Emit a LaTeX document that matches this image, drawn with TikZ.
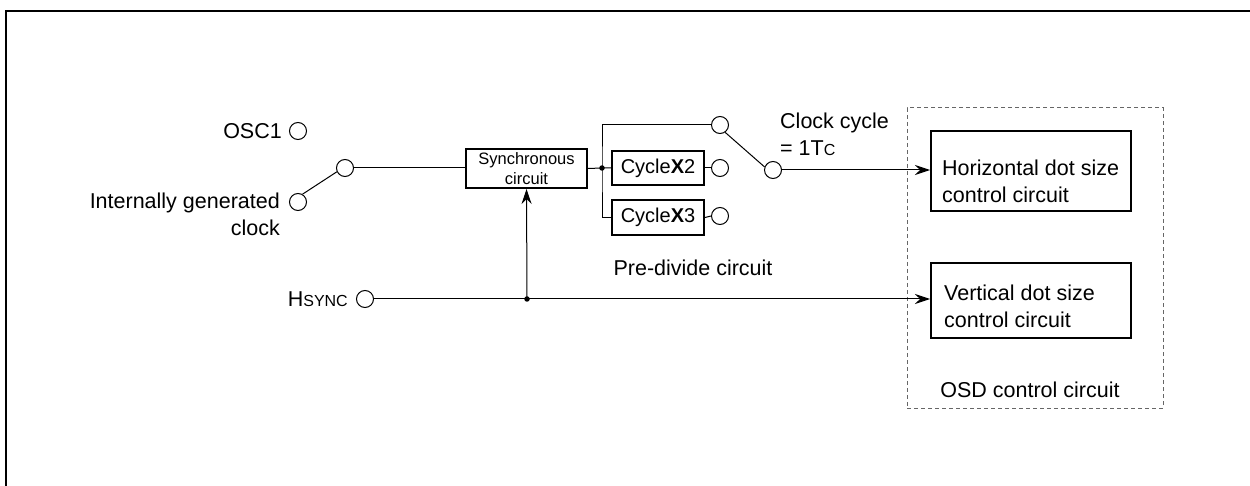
\documentclass[tikz,border=0pt]{standalone}
\usepackage{fontspec}
\setmainfont{Liberation Sans}
\usetikzlibrary{arrows.meta}
\begin{document}
\begin{tikzpicture}[x=1pt,y=-1pt,
  every node/.style={font=\fontsize{21.5}{27}\selectfont},
  port/.style={circle,draw,line width=1pt,minimum size=17pt,inner sep=0pt},
  blk/.style={draw,line width=2pt,inner sep=0pt},
  wire/.style={line width=1pt},
  arr/.style={wire,-{Stealth[length=15pt,width=10pt,inset=5pt]}},
  jdot/.style={circle,fill,inner sep=0pt,minimum size=5.5pt},
  lbl/.style={inner sep=0pt}]
\useasboundingbox (0,0) rectangle (1250,486);
\draw[line width=2.7pt] (6,11) rectangle (1300,540);

% inputs
\node[port] (osc) at (298,131) {};
\node[lbl,anchor=east] (osclbl) at (282,131) {OSC1};
\node[port] (igc) at (298,202) {};
\node[lbl,anchor=east,align=right] (igclbl) at (280,214.5) {Internally generated\\clock};
\node[port] (sw1) at (345,168) {};

% synchronous circuit
\node[blk,minimum width=121pt,minimum height=39pt,align=center,
      font=\fontsize{16.5}{20}\selectfont] (sync) at (526.5,168.5) {Synchronous\\circuit};
\node[jdot] (j1) at (602,168) {};

% pre-divide
\node[blk,minimum width=92pt,minimum height=34pt,font=\fontsize{20}{24}\selectfont] (c2) at (658,168) {Cycle\textbf{X}2};
\node[blk,minimum width=92pt,minimum height=35pt,font=\fontsize{20}{24}\selectfont] (c3) at (658,217.5) {Cycle\textbf{X}3};
\node[port] (sw2a) at (720,125) {};
\node[port] (c2o) at (720,168) {};
\node[port] (c3o) at (720,216) {};
\node[port] (sw2b) at (773,170) {};
\node[lbl,anchor=west,align=left] (tc) at (780,134) {Clock cycle\\= 1T{\fontsize{16}{16}\selectfont C}};
\node[lbl] (pre) at (693,268) {Pre-divide circuit};

% hsync
\node[port] (hs) at (365,299) {};
\node[lbl,anchor=east] (hslbl) at (348,299) {H{\fontsize{16}{16}\selectfont SYNC}};
\node[jdot] (j2) at (527,299) {};

% OSD
\node[draw,gray!80!black,line width=1pt,dash pattern=on 4pt off 3pt,minimum width=256pt,minimum height=300pt,inner sep=0pt] (osd) at (1035,258) {};
\node[blk,minimum width=200pt,minimum height=80pt] (hbox) at (1031,171) {};
\node[lbl,anchor=west,align=left] (htxt) at (942,181.5) {Horizontal dot size\\control circuit};
\node[blk,minimum width=200pt,minimum height=75pt] (vbox) at (1031,300.5) {};
\node[lbl,anchor=west,align=left] (vtxt) at (944,306) {Vertical dot size\\control circuit};
\node[lbl] (osdlbl) at (1030,390) {OSD control circuit};

% connectors
\draw[wire] (igc.60) -- (sw1.205);
\draw[wire] (sw1.east) -- (sw1.east -| sync.west);
\draw[wire] (sync.east) -- (j1.center) -- (c2.west);
\draw[wire] (sw2a.west) -| (j1.center) |- (c3.west);
\draw[wire] (c2.east) -- (c2o.west);
\draw[wire] (c3.east) -- (c3o.west);
\draw[wire] (sw2a.-55) -- (sw2b.160);
\draw[arr] (sw2b.east) -- (sw2b.east -| hbox.west);
\draw[arr] (hs.east) -- (hs.east -| vbox.west);
\draw[arr] (j2.center) -- (sync.south);
\end{tikzpicture}
\end{document}
